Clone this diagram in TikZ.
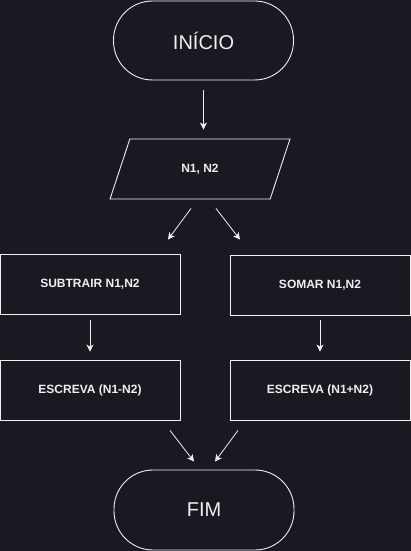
\documentclass[tikz,border=0pt]{standalone}
\usepackage{fontspec}
\setmainfont{Liberation Sans}
\usetikzlibrary{shapes.geometric,arrows.meta}
\definecolor{bg}{HTML}{1A1820}
\definecolor{ink}{HTML}{F0F0F0}

\tikzset{
  term/.style={draw=ink, line width=0.9pt, rectangle, rounded corners=39pt,
    minimum width=180pt, minimum height=79pt, text=ink, font=\fontsize{20}{24}\selectfont},
  io/.style={draw=ink, line width=0.9pt, trapezium, trapezium left angle=71.6,
    trapezium right angle=108.4, trapezium stretches=true, inner xsep=50pt, inner ysep=24pt,
    minimum width=180pt, minimum height=60pt, text=ink, font=\bfseries\fontsize{12}{14}\selectfont},
  proc/.style={draw=ink, line width=0.9pt, rectangle, minimum width=180pt,
    minimum height=60pt, text=ink, font=\bfseries\fontsize{12}{14}\selectfont},
  arrow/.style={draw=ink, line width=0.8pt, -{Stealth[length=7pt,width=7pt,inset=2pt]}}
}

\begin{document}
\begin{tikzpicture}[x=1pt, y=1pt]
  \fill[bg] (0,0) rectangle (411,-551);
  \useasboundingbox (0,0) rectangle (411,-551);

  \node[term] (ini) at (203.5,-40.5) {INÍCIO};
  \node[io] (in) at (200,-169) {N1, N2};
  \node[proc] (sub) at (90,-284) {SUBTRAIR N1,N2};
  \node[proc] (som) at (320,-285) {SOMAR N1,N2};
  \node[proc] (esub) at (90,-390) {ESCREVA (N1-N2)};
  \node[proc] (esom) at (320,-390) {ESCREVA (N1+N2)};
  \node[term, minimum height=80pt] (fim) at (204,-510) {FIM};

  \draw[arrow, shorten <=10pt, shorten >=9pt] (ini.south) -- (ini.south |- in.north);
  \draw[arrow] ([xshift=-9pt,yshift=-9pt]in.south) -- ([xshift=78pt,yshift=14pt]sub.north);
  \draw[arrow] ([xshift=16pt,yshift=-9pt]in.south) -- ([xshift=-80pt,yshift=15pt]som.north);
  \draw[arrow, shorten <=6pt, shorten >=8pt] (sub.south) -- (esub.north);
  \draw[arrow, shorten <=5pt, shorten >=8pt] (som.south) -- (esom.north);
  \draw[arrow] ([xshift=80pt,yshift=-10pt]esub.south) -- ([xshift=-10pt,yshift=8pt]fim.north);
  \draw[arrow] ([xshift=-82pt,yshift=-10pt]esom.south) -- ([xshift=11pt,yshift=8pt]fim.north);
\end{tikzpicture}
\end{document}
